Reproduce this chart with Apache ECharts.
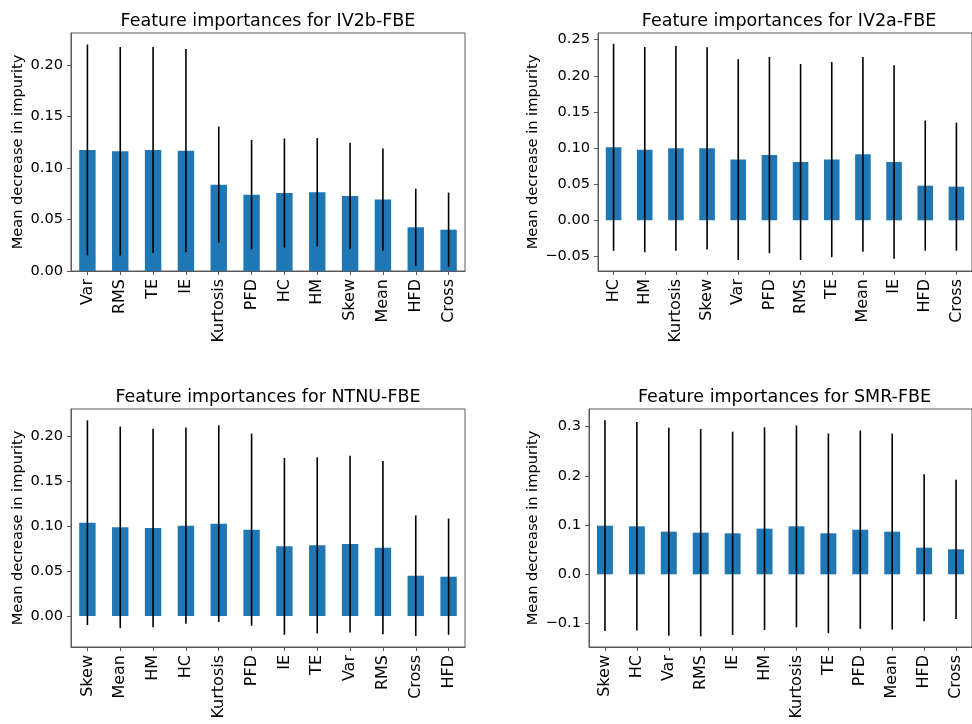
<!DOCTYPE html>
<html>
<head>
<meta charset="utf-8">
<script src="https://cdn.jsdelivr.net/npm/echarts@6/dist/echarts.min.js"></script>
<style>
  html, body { margin: 0; padding: 0; background: #fff; }
  #chart { width: 972px; height: 724px; }
</style>
</head>
<body>
<div id="chart"></div>
<script>
// Random-forest feature importances (mean decrease in impurity) with std error bars

const titles = [
  'Feature importances for IV2b-FBE',
  'Feature importances for IV2a-FBE',
  'Feature importances for NTNU-FBE',
  'Feature importances for SMR-FBE'
];

const cats1 = ['Var', 'RMS', 'TE', 'IE', 'Kurtosis', 'PFD', 'HC', 'HM', 'Skew', 'Mean', 'HFD', 'Cross'];
const mean1 = [0.1175, 0.1162, 0.1175, 0.1168, 0.0838, 0.0741, 0.0757, 0.0764, 0.0728, 0.0693, 0.0424, 0.0401];
const std1  = [0.1023, 0.1012, 0.1000, 0.0986, 0.0563, 0.0531, 0.0529, 0.0526, 0.0516, 0.0497, 0.0375, 0.0360];

const cats2 = ['HC', 'HM', 'Kurtosis', 'Skew', 'Var', 'PFD', 'RMS', 'TE', 'Mean', 'IE', 'HFD', 'Cross'];
const mean2 = [0.1010, 0.0978, 0.0996, 0.0996, 0.0840, 0.0904, 0.0807, 0.0840, 0.0913, 0.0807, 0.0480, 0.0466];
const std2  = [0.1432, 0.1420, 0.1416, 0.1400, 0.1390, 0.1358, 0.1356, 0.1350, 0.1346, 0.1338, 0.0900, 0.0886];

const cats3 = ['Skew', 'Mean', 'HM', 'HC', 'Kurtosis', 'PFD', 'IE', 'TE', 'Var', 'RMS', 'Cross', 'HFD'];
const mean3 = [0.1037, 0.0985, 0.0978, 0.1004, 0.1026, 0.0959, 0.0774, 0.0785, 0.0800, 0.0759, 0.0448, 0.0437];
const std3  = [0.1137, 0.1120, 0.1102, 0.1090, 0.1093, 0.1067, 0.0982, 0.0978, 0.0982, 0.0962, 0.0670, 0.0646];

const cats4 = ['Skew', 'HC', 'Var', 'RMS', 'IE', 'HM', 'Kurtosis', 'TE', 'PFD', 'Mean', 'HFD', 'Cross'];
const mean4 = [0.0988, 0.0975, 0.0867, 0.0846, 0.0833, 0.0928, 0.0975, 0.0833, 0.0907, 0.0867, 0.0542, 0.0508];
const std4  = [0.2140, 0.2118, 0.2113, 0.2106, 0.2065, 0.2058, 0.2049, 0.2028, 0.2015, 0.1990, 0.1493, 0.1415];

const ticks1 = [0, 0.05, 0.10, 0.15, 0.20];
const ticks2 = [-0.05, 0, 0.05, 0.10, 0.15, 0.20, 0.25];
const ticks3 = [0, 0.05, 0.10, 0.15, 0.20];
const ticks4 = [-0.1, 0, 0.1, 0.2, 0.3];

const yLabel = 'Mean decrease in impurity';

const panels = [
  { cats: cats1, mean: mean1, std: std1, ticks: ticks1, digits: 2, yMin: 0,       yMax: 0.231,
    grid: { left: 71,  top: 33,  width: 394, height: 238 }, nameGap: 45 },
  { cats: cats2, mean: mean2, std: std2, ticks: ticks2, digits: 2, yMin: -0.0701, yMax: 0.2592,
    grid: { left: 598, top: 33,  width: 382, height: 238 }, nameGap: 57 },
  { cats: cats3, mean: mean3, std: std3, ticks: ticks3, digits: 2, yMin: -0.0344, yMax: 0.230,
    grid: { left: 71,  top: 409, width: 394, height: 238 }, nameGap: 45 },
  { cats: cats4, mean: mean4, std: std4, ticks: ticks4, digits: 1, yMin: -0.1476, yMax: 0.3358,
    grid: { left: 589, top: 409, width: 391, height: 238 }, nameGap: 48 }
];

const FONT = 'DejaVu Sans';
const SPINE = '#5a5a5a';
const BAR = '#1f77b4';

function fmt(v, digits) {
  const s = Math.abs(v).toFixed(digits);
  return v < -1e-9 ? '\u2212' + s : s;
}

const option = {
  animation: false,
  backgroundColor: '#fff',
  title: [],
  grid: [],
  xAxis: [],
  yAxis: [],
  series: []
};

panels.forEach((p, i) => {
  option.grid.push(Object.assign({
    show: true, borderColor: SPINE, borderWidth: 1, backgroundColor: 'transparent'
  }, p.grid));

  option.title.push({
    text: titles[i],
    left: p.grid.left + p.grid.width / 2,
    top: p.grid.top - 21,
    textAlign: 'center',
    padding: 0,
    textStyle: { fontFamily: FONT, fontSize: 17.5, fontWeight: 'normal', color: '#000' }
  });

  option.xAxis.push({
    type: 'category',
    gridIndex: i,
    data: p.cats,
    boundaryGap: true,
    axisLine: { show: true, onZero: false, lineStyle: { color: SPINE, width: 1 } },
    axisTick: { show: true, alignWithLabel: true, length: 4, lineStyle: { color: SPINE, width: 1 } },
    axisLabel: { rotate: 90, margin: 8, interval: 0, fontFamily: FONT, fontSize: 16, color: '#000' },
    splitLine: { show: false }
  });

  option.yAxis.push({
    type: 'value',
    gridIndex: i,
    min: p.yMin,
    max: p.yMax,
    name: yLabel,
    nameLocation: 'middle',
    nameRotate: 90,
    nameGap: p.nameGap,
    nameTextStyle: { fontFamily: FONT, fontSize: 14.6, color: '#000' },
    axisLine: { show: true, onZero: false, lineStyle: { color: SPINE, width: 1 } },
    axisTick: { show: true, length: 4, customValues: p.ticks, lineStyle: { color: SPINE, width: 1 } },
    axisLabel: {
      margin: 8, customValues: p.ticks, fontFamily: FONT, fontSize: 14.6, color: '#000',
      formatter: (v) => fmt(v, p.digits)
    },
    splitLine: { show: false }
  });

  option.series.push({
    type: 'bar',
    xAxisIndex: i,
    yAxisIndex: i,
    data: p.mean,
    barWidth: '50%',
    itemStyle: { color: BAR },
    z: 2
  });

  option.series.push({
    type: 'custom',
    xAxisIndex: i,
    yAxisIndex: i,
    data: p.mean.map((m, k) => [k, m - p.std[k], m + p.std[k]]),
    renderItem: (params, api) => {
      const a = api.coord([api.value(0), api.value(1)]);
      const b = api.coord([api.value(0), api.value(2)]);
      return {
        type: 'line',
        shape: { x1: a[0], y1: a[1], x2: b[0], y2: b[1] },
        style: { stroke: '#000', lineWidth: 1.6 }
      };
    },
    z: 3
  });
});

const chart = echarts.init(document.getElementById('chart'), null, { renderer: 'canvas' });
chart.setOption(option);
</script>
</body>
</html>
